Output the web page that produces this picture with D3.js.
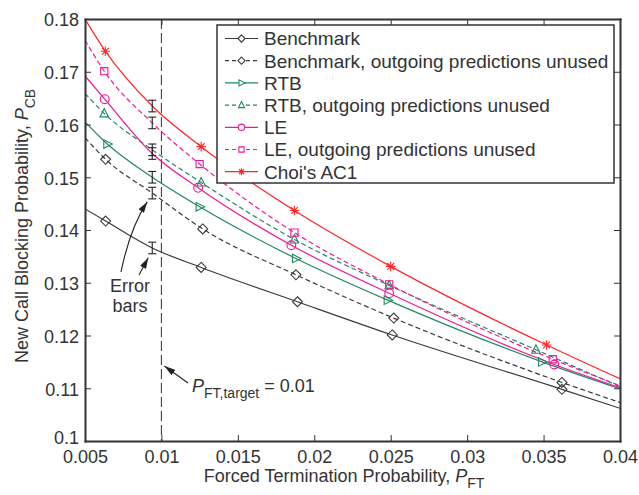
<!DOCTYPE html>
<html>
<head>
<meta charset="utf-8">
<script src="https://cdn.jsdelivr.net/npm/d3@7"></script>
<style>
  body { margin: 0; background: #fff; }
  svg { font-family: "Liberation Sans", Arial, sans-serif; }
</style>
</head>
<body>
<svg width="639" height="495"></svg>
<script>
// axis ticks
const pftTicks = [0.005, 0.01, 0.015, 0.02, 0.025, 0.03, 0.035, 0.04];
const pcbTicks = [0.1, 0.11, 0.12, 0.13, 0.14, 0.15, 0.16, 0.17, 0.18];

// simulated points (x = P_FT, y = P_CB), second point carries an error bar
const benchX = [0.00635, 0.0094, 0.0126, 0.0189, 0.0251, 0.0362];
const benchY = [0.1417, 0.1366, 0.1329, 0.1264, 0.1201, 0.1098];
const benchFit = [0.1440, 0.1062];   // curve value at x = 0.005 and x = 0.04

const benchUnX = [0.00635, 0.0094, 0.0127, 0.0188, 0.0252, 0.0362];
const benchUnY = [0.1534, 0.1470, 0.1402, 0.1315, 0.1233, 0.1111];
const benchUnFit = [0.1575, 0.1073];

const rtbX = [0.00646, 0.0094, 0.0125, 0.0188, 0.0248, 0.0349];
const rtbY = [0.1563, 0.1500, 0.1444, 0.1346, 0.1267, 0.1150];
const rtbFit = [0.1605, 0.1099];

const rtbUnX = [0.00626, 0.0094, 0.0126, 0.0187, 0.0249, 0.0345];
const rtbUnY = [0.1621, 0.1552, 0.1490, 0.1382, 0.1295, 0.1173];
const rtbUnFit = [0.1659, 0.1103];

const leX = [0.00629, 0.0094, 0.0124, 0.0185, 0.0249, 0.0357];
const leY = [0.1648, 0.1545, 0.1480, 0.1371, 0.1280, 0.1145];
const leFit = [0.1692, 0.1101];

const leUnX = [0.00626, 0.0094, 0.0125, 0.0187, 0.0249, 0.0356];
const leUnY = [0.1701, 0.1603, 0.1525, 0.1395, 0.1297, 0.1155];
const leUnFit = [0.1760, 0.1105];

const choiX = [0.00633, 0.0094, 0.0126, 0.0187, 0.0250, 0.0352];
const choiY = [0.1739, 0.1635, 0.1558, 0.1437, 0.1331, 0.1182];
const choiFit = [0.1800, 0.1118];

const errHalf = 0.0011;

const seriesNames = [
  "Benchmark",
  "Benchmark, outgoing predictions unused",
  "RTB",
  "RTB, outgoing predictions unused",
  "LE",
  "LE, outgoing predictions unused",
  "Choi's AC1"
];

const black = "#3a3a3a", green = "#1f8a5c", pink = "#f0169a", red = "#ff2626";

const series = [
  { name: seriesNames[0], xs: benchX, ys: benchY, fit: benchFit, color: black, dash: null, marker: "diamond" },
  { name: seriesNames[1], xs: benchUnX, ys: benchUnY, fit: benchUnFit, color: black, dash: "5,3", marker: "diamond" },
  { name: seriesNames[2], xs: rtbX, ys: rtbY, fit: rtbFit, color: green, dash: null, marker: "right" },
  { name: seriesNames[3], xs: rtbUnX, ys: rtbUnY, fit: rtbUnFit, color: green, dash: "5,3", marker: "up" },
  { name: seriesNames[4], xs: leX, ys: leY, fit: leFit, color: pink, dash: null, marker: "circle" },
  { name: seriesNames[5], xs: leUnX, ys: leUnY, fit: leUnFit, color: pink, dash: "5,3", marker: "square" },
  { name: seriesNames[6], xs: choiX, ys: choiY, fit: choiFit, color: red, dash: null, marker: "star" }
];

const svg = d3.select("svg");
const axisColor = "#333";
const textColor = "#333";

const x = d3.scaleLinear().domain([0.005, 0.04]).range([85, 620]);
const y = d3.scaleLinear().domain([0.1, 0.18]).range([441, 19]);

// arrow head
svg.append("defs").append("marker")
  .attr("id", "arrow")
  .attr("viewBox", "0 0 10 6")
  .attr("refX", 10).attr("refY", 3)
  .attr("markerWidth", 11).attr("markerHeight", 7)
  .attr("markerUnits", "userSpaceOnUse")
  .attr("orient", "auto")
  .append("path")
  .attr("d", "M0,0 L10,3 L0,6 Z")
  .attr("fill", "#222");

// marker shapes, s = scale
function markerPath(type, s) {
  if (type == "diamond") { const r = 5 * s; return `M0,${-r}L${r},0L0,${r}L${-r},0Z`; }
  if (type == "right") { const r = 5 * s; return `M${r},0L${-r * 0.7},${-r * 0.85}L${-r * 0.7},${r * 0.85}Z`; }
  if (type == "up") { const r = 5 * s; return `M0,${-r}L${r * 0.85},${r * 0.7}L${-r * 0.85},${r * 0.7}Z`; }
  if (type == "square") { const r = 3.6 * s; return `M${-r},${-r}H${r}V${r}H${-r}Z`; }
  if (type == "circle") { const r = 4.4 * s; return `M${r},0A${r},${r} 0 1,1 ${-r},0A${r},${r} 0 1,1 ${r},0Z`; }
  if (type == "star") {
    const r = 4.8 * s, d = r * 0.7071;
    return `M${-r},0H${r}M0,${-r}V${r}M${-d},${-d}L${d},${d}M${-d},${d}L${d},${-d}`;
  }
}

// plot group clipped to the frame
svg.append("clipPath").attr("id", "plotclip")
  .append("rect").attr("x", 85).attr("y", 19).attr("width", 535).attr("height", 422);

const plot = svg.append("g").attr("clip-path", "url(#plotclip)");

// target line
plot.append("line")
  .attr("x1", x(0.01)).attr("x2", x(0.01))
  .attr("y1", y(0.18)).attr("y2", y(0.1))
  .attr("stroke", "#444").attr("stroke-width", 1.1)
  .attr("stroke-dasharray", "10,4");

const line = d3.line().x(d => x(d[0])).y(d => y(d[1])).curve(d3.curveMonotoneX);

series.forEach(s => {
  const pts = [[0.005, s.fit[0]]].concat(s.xs.map((v, i) => [v, s.ys[i]])).concat([[0.04, s.fit[1]]]);
  plot.append("path")
    .datum(pts)
    .attr("fill", "none")
    .attr("stroke", s.color)
    .attr("stroke-width", 1.2)
    .attr("stroke-dasharray", s.dash)
    .attr("d", line);
});

// error bars at the second point of each series
series.forEach(s => {
  const cx = x(s.xs[1]);
  const y0 = y(s.ys[1] - errHalf), y1 = y(s.ys[1] + errHalf);
  const eb = plot.append("g").attr("stroke", "#222").attr("stroke-width", 1.1);
  eb.append("line").attr("x1", cx).attr("x2", cx).attr("y1", y0).attr("y2", y1);
  eb.append("line").attr("x1", cx - 4).attr("x2", cx + 4).attr("y1", y0).attr("y2", y0);
  eb.append("line").attr("x1", cx - 4).attr("x2", cx + 4).attr("y1", y1).attr("y2", y1);
});

// markers (not on the error-bar point)
series.forEach(s => {
  plot.selectAll(null)
    .data(s.xs.map((v, i) => [v, s.ys[i]]).filter((d, i) => i != 1))
    .enter().append("path")
    .attr("transform", d => `translate(${x(d[0])},${y(d[1])})`)
    .attr("d", markerPath(s.marker, 1))
    .attr("fill", "none")
    .attr("stroke", s.color)
    .attr("stroke-width", 1.1);
});

// axes
function styleAxis(g) {
  g.select(".domain").attr("stroke", axisColor).attr("stroke-width", 2);
  g.selectAll(".tick line").attr("stroke", axisColor).attr("stroke-width", 1);
  g.selectAll(".tick text").attr("fill", textColor).style("font-size", "18px");
}

svg.append("g")
  .attr("transform", `translate(0,${y(0.1)})`)
  .call(d3.axisBottom(x).tickValues(pftTicks).tickSizeInner(-6).tickSizeOuter(0).tickPadding(9)
    .tickFormat(d3.format("")))
  .call(styleAxis);

const yAxis = svg.append("g")
  .attr("transform", `translate(${x(0.005)},0)`)
  .call(d3.axisLeft(y).tickValues(pcbTicks).tickSizeInner(-6).tickSizeOuter(0).tickPadding(6)
    .tickFormat(d3.format("")))
  .call(styleAxis);
yAxis.selectAll(".tick text").attr("dy", "0.38em");
// lowest label sits a little higher, clear of the x labels
yAxis.selectAll(".tick text").filter(d => d == 0.1).attr("y", -4);

svg.append("g")
  .attr("transform", `translate(0,${y(0.18)})`)
  .call(d3.axisTop(x).tickValues(pftTicks).tickSizeInner(-6).tickSizeOuter(0).tickFormat(""))
  .call(styleAxis);

svg.append("g")
  .attr("transform", `translate(${x(0.04)},0)`)
  .call(d3.axisRight(y).tickValues(pcbTicks).tickSizeInner(-6).tickSizeOuter(0).tickFormat(""))
  .call(styleAxis);

svg.selectAll(".domain").attr("stroke-linecap", "square");

// axis titles
const xTitle = svg.append("text")
  .attr("x", 344).attr("y", 482)
  .attr("text-anchor", "middle")
  .attr("fill", textColor)
  .style("font-size", "18px");
xTitle.append("tspan").text("Forced Termination Probability, ");
xTitle.append("tspan").style("font-style", "italic").text("P");
xTitle.append("tspan").attr("dy", 6).style("font-size", "14px").text("FT");

const yTitle = svg.append("text")
  .attr("transform", "translate(28,226) rotate(-90)")
  .attr("text-anchor", "middle")
  .attr("fill", textColor)
  .style("font-size", "18px");
yTitle.append("tspan").text("New Call Blocking Probability, ");
yTitle.append("tspan").style("font-style", "italic").text("P");
yTitle.append("tspan").attr("dy", 7).style("font-size", "14px").text("CB");

// legend
const lg = svg.append("g").attr("transform", "translate(217,25)");
lg.append("rect")
  .attr("width", 397).attr("height", 158)
  .attr("fill", "#fff").attr("stroke", axisColor).attr("stroke-width", 1.5);

series.forEach((s, i) => {
  const ly = 13.5 + i * 22.2;
  const row = lg.append("g").attr("transform", `translate(0,${ly})`);
  row.append("line")
    .attr("x1", 8).attr("x2", 41)
    .attr("stroke", s.color).attr("stroke-width", 1.2)
    .attr("stroke-dasharray", s.dash ? "4,3" : null);
  row.append("path")
    .attr("transform", "translate(24.5,0)")
    .attr("d", markerPath(s.marker, 0.72))
    .attr("fill", "#fff")
    .attr("stroke", s.color).attr("stroke-width", 1.1);
  row.append("text")
    .attr("x", 47).attr("dy", "0.36em")
    .attr("fill", textColor)
    .style("font-size", "19px")
    .text(s.name);
});

// annotations
const note = svg.append("g").attr("fill", textColor).style("font-size", "18px");
note.append("text").attr("x", 130).attr("y", 292).attr("text-anchor", "middle").text("Error");
note.append("text").attr("x", 130).attr("y", 312).attr("text-anchor", "middle").text("bars");

svg.append("path")
  .attr("d", `M121,272 Q130,228 ${x(benchUnX[1]) - 5},${y(benchUnY[1] - errHalf) + 3}`)
  .attr("fill", "none").attr("stroke", "#222").attr("stroke-width", 1.1)
  .attr("marker-end", "url(#arrow)");

svg.append("path")
  .attr("d", `M139,275 L${x(benchX[1]) - 4},${y(benchY[1] - errHalf) + 4}`)
  .attr("fill", "none").attr("stroke", "#222").attr("stroke-width", 1.1)
  .attr("marker-end", "url(#arrow)");

svg.append("path")
  .attr("d", `M188,383 L${x(0.01) + 3},366`)
  .attr("fill", "none").attr("stroke", "#222").attr("stroke-width", 1.1)
  .attr("marker-end", "url(#arrow)");

const tgt = note.append("text").attr("x", 192).attr("y", 391.5);
tgt.append("tspan").style("font-style", "italic").text("P");
tgt.append("tspan").attr("dy", 6.5).style("font-size", "14px").text("FT,target");
tgt.append("tspan").attr("dy", -6.5).text(" = 0.01");
</script>
</body>
</html>
